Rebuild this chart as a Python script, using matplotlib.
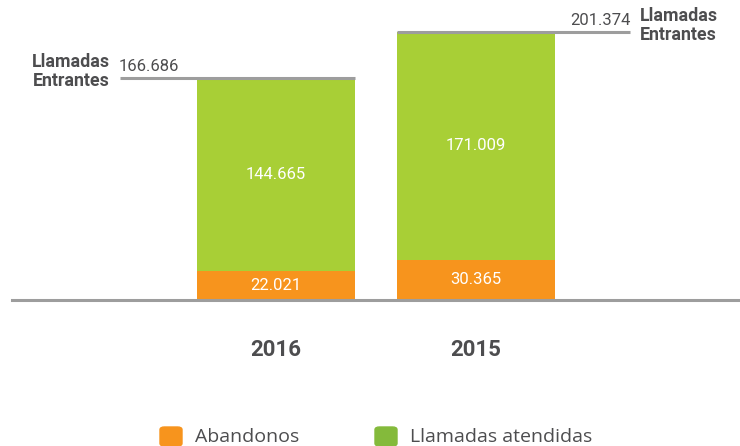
import matplotlib
matplotlib.use("Agg")
import matplotlib.pyplot as plt
from matplotlib.patches import FancyBboxPatch

# datos: llamadas por año
years = ["2016", "2015"]
abandonos = [22021, 30365]
atendidas = [144665, 171009]
entrantes = [166686, 201374]


def fmt(v):
    return f"{v:,}".replace(",", ".")


ORANGE = "#f7941d"
GREEN = "#a8cf36"
GREEN_LEG = "#84ba3b"
GRAY = "#9d9d9d"
TXT = "#4d4d4f"
FONT = ["Roboto", "DejaVu Sans"]

fig = plt.figure(figsize=(7.4, 4.46), dpi=100)
# eje en píxeles: base en y=300, de x=0 a x=740
ax = fig.add_axes([0, (446 - 300) / 446, 1, 300 / 446])
ax.set_xlim(-1.38, 2.32)
ax.set_ylim(0, 225700)
ax.axis("off")

x = [0, 1]
w = 0.79
ax.bar(x, abandonos, w, color=ORANGE, zorder=2)
ax.bar(x, atendidas, w, bottom=abandonos, color=GREEN, zorder=2)

for xi, a, b in zip(x, abandonos, atendidas):
    ax.text(xi, a / 2, fmt(a), ha="center", va="center", color="white",
            fontsize=12, family=FONT, zorder=3)
    ax.text(xi, a + b / 2, fmt(b), ha="center", va="center", color="white",
            fontsize=12, family=FONT, zorder=3)

# línea base
ax.axhline(0, xmin=12 / 740, xmax=1, color=GRAY, lw=2.2, zorder=4, clip_on=False)

# líneas de llamadas entrantes
ax.plot([-0.78, w / 2], [entrantes[0]] * 2, color=GRAY, lw=2.2, zorder=4,
        solid_capstyle="butt", clip_on=False)
ax.plot([1 - w / 2, 1.77], [entrantes[1]] * 2, color=GRAY, lw=2.2, zorder=4,
        solid_capstyle="butt", clip_on=False)

ax.text(-0.785, entrantes[0] + 3000, fmt(entrantes[0]), ha="left", va="bottom",
        color=TXT, fontsize=12, family=FONT, clip_on=False)
ax.text(-0.83, entrantes[0] + 19000, "Llamadas\nEntrantes", ha="right",
        va="top", color=TXT, fontsize=12.8, fontweight="bold", family=FONT,
        linespacing=1.05, clip_on=False)
ax.text(1.775, entrantes[1] + 3000, fmt(entrantes[1]), ha="right", va="bottom",
        color=TXT, fontsize=12, family=FONT, clip_on=False)
ax.text(1.82, entrantes[1] + 19000, "Llamadas\nEntrantes", ha="left",
        va="top", color=TXT, fontsize=12.8, fontweight="bold", family=FONT,
        linespacing=1.05, clip_on=False)

# etiquetas de año
for xi, yr in zip(x, years):
    fig.text((276 + 200 * xi) / 740, 1 - 350 / 446, yr, ha="center",
             va="center", color=TXT, fontsize=16, fontweight="bold",
             family=FONT)

# leyenda
for px, col, lab in [(160, ORANGE, "Abandonos"), (375, GREEN_LEG, "Llamadas atendidas")]:
    fig.patches.append(FancyBboxPatch((px / 740, 1 - 446 / 446), 22 / 740, 19 / 446,
                                      boxstyle="round,pad=0,rounding_size=0.006",
                                      transform=fig.transFigure, color=col))
    fig.text((px + 35) / 740, 1 - 437 / 446, lab, ha="left", va="center",
             color=TXT, fontsize=14, family=["Open Sans", "DejaVu Sans"])

fig.savefig("out.png", dpi=100)
